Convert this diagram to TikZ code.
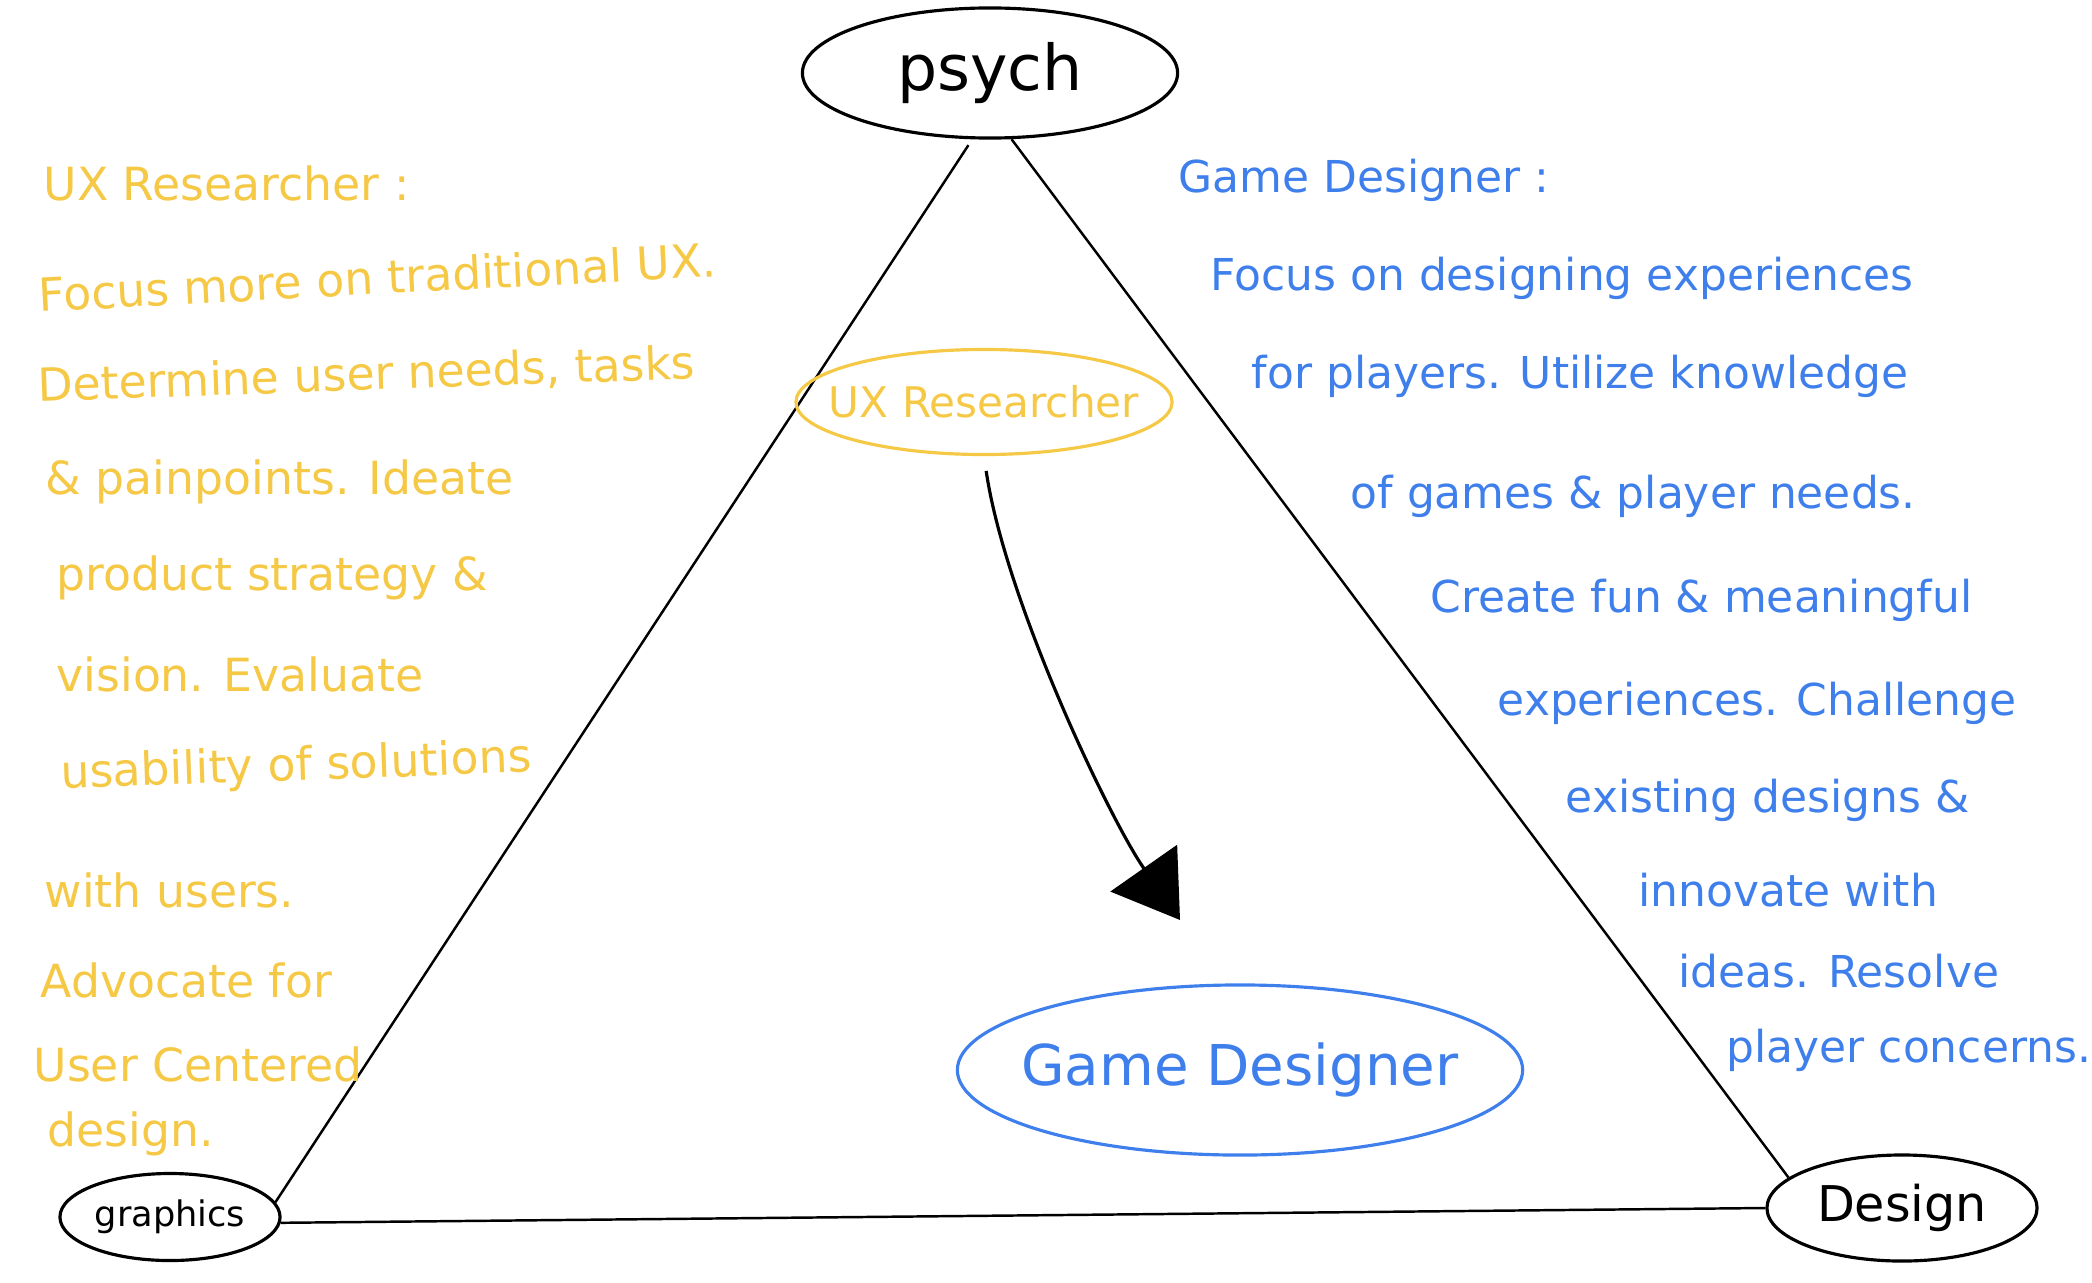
\documentclass[tikz,border=0pt]{standalone}
\usepackage{fontspec}
\setmainfont{DejaVu Sans}
\usetikzlibrary{arrows.meta,shapes.geometric}
\definecolor{uxyellow}{HTML}{F5C846}
\definecolor{gdblue}{HTML}{3F7FEC}

\begin{document}
\begin{tikzpicture}[x=.01cm,y=-.01cm,
  blob/.style={draw,ellipse,inner sep=0pt,line width=.9pt},
  side/.style={black,line width=.7pt},
  uxnote/.style={anchor=west,inner sep=0pt,text=uxyellow,font=\fontsize{13}{16}\selectfont},
  gdnote/.style={anchor=west,inner sep=0pt,text=gdblue,font=\fontsize{12.5}{15}\selectfont}]
\useasboundingbox (0,0) rectangle (2092,1282);
% corners of the triangle
\node[blob,minimum width=3.75cm,minimum height=1.3cm,font=\fontsize{18}{22}\selectfont] (psych) at (990,73) {psych};
\node[blob,minimum width=2.2cm,minimum height=.87cm,font=\fontsize{10}{12}\selectfont] (graphics) at (170,1217) {graphics};
\node[blob,minimum width=2.7cm,minimum height=1.06cm,font=\fontsize{14}{16}\selectfont] (design) at (1902,1208) {Design};
\draw[side,shorten <=.07cm] (psych.255) -- (graphics.8);
\draw[side] (psych.288) -- (design.165);
\draw[side] (graphics.-3) -- (design.west);
% roles inside
\node[blob,draw=uxyellow,minimum width=3.76cm,minimum height=1.05cm,label={[text=uxyellow,font=\fontsize{12}{14}\selectfont]center:UX Researcher}] (uxr) at (984,402) {};
\node[blob,draw=gdblue,minimum width=5.65cm,minimum height=1.7cm,label={[text=gdblue,font=\fontsize{16}{19}\selectfont]center:Game Designer}] (gd) at (1240,1070) {};
\coordinate (tip) at (1180,920);
\draw[line width=.9pt,shorten <=.15cm,-{Triangle[length=18pt,width=23pt]}] (uxr.south) .. controls (1005,600) and (1110,820) .. (tip);
% UX Researcher notes
\node[uxnote] (ux1) at (43,183) {UX Researcher :};
\node[uxnote,rotate=3] (ux2) at (38,295) {Focus more on traditional UX.};
\node[uxnote,rotate=2] (ux3) at (37,387) {Determine user needs, tasks};
\node[uxnote] (ux4) at (45,482) {\& painpoints. Ideate};
\node[uxnote] (ux5) at (56,578) {product strategy \&};
\node[uxnote] (ux6) at (56,674) {vision. Evaluate};
\node[uxnote,rotate=2] (ux7) at (60,776) {usability of solutions};
\node[uxnote] (ux8) at (44,890) {with users.};
\node[uxnote] (ux9) at (40,980) {Advocate for};
\node[uxnote] (ux10) at (33,1064) {User Centered};
\node[uxnote] (ux11) at (47,1134) {design.};
% Game Designer notes
\node[gdnote] (gd1) at (1178,180) {Game Designer :};
\node[gdnote] (gd2) at (1210,278) {Focus on designing experiences};
\node[gdnote] (gd3) at (1251,376) {for players. Utilize knowledge};
\node[gdnote] (gd4) at (1350,496) {of games \& player needs.};
\node[gdnote] (gd5) at (1430,600) {Create fun \& meaningful};
\node[gdnote] (gd6) at (1497,703) {experiences. Challenge};
\node[gdnote] (gd7) at (1565,800) {existing designs \&};
\node[gdnote] (gd8) at (1638,890) {innovate with};
\node[gdnote] (gd9) at (1678,971) {ideas. Resolve};
\node[gdnote] (gd10) at (1726,1050) {player concerns.};
\end{tikzpicture}
\end{document}
